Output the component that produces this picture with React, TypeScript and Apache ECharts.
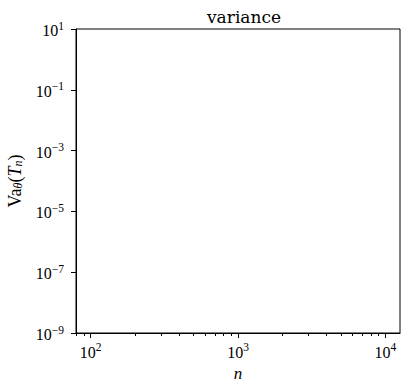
import React, { useEffect, useRef } from "react";
import * as echarts from "echarts";

const titleText = "variance";
const xMajorTicks = [100, 1000, 10000];
const xMinorTicks = [80, 90, 200, 300, 400, 500, 600, 700, 800, 900, 2000, 3000, 4000, 5000, 6000, 7000, 8000, 9000];
const yMajorTicks = [10, 0.1, 1e-3, 1e-5, 1e-7, 1e-9];
const xRange = [Math.pow(10, 1.9), Math.pow(10, 4.1)];
const yRange = [1e-9, 10];
const seriesValues: [number, number][] = [];

const SERIF = "'Liberation Serif', 'DejaVu Serif', serif";

function powLabel(v: number) {
  const e = Math.round(Math.log10(v));
  const s = e < 0 ? "\u2212" + Math.abs(e) : String(e);
  return "{b|10}{s|" + s + "}";
}

const richTick = {
  b: { fontFamily: SERIF, fontSize: 16, color: "#000", lineHeight: 19, verticalAlign: "bottom" },
  s: { fontFamily: SERIF, fontSize: 11.5, color: "#000", lineHeight: 11, verticalAlign: "top" },
};

export default function App() {
  const ref = useRef<HTMLDivElement>(null);
  useEffect(() => {
    if (!ref.current) return;
    const chart = echarts.init(ref.current, null, { renderer: "svg" });
    chart.setOption({
      animation: false,
      backgroundColor: "#fff",
      title: {
        text: titleText,
        left: 239,
        top: 3,
        textAlign: "center",
        textStyle: { fontFamily: "'DejaVu Serif', serif", fontSize: 17, fontWeight: "normal", color: "#000" },
      },
      grid: {
        left: 76,
        top: 29,
        right: 2,
        bottom: 49,
        containLabel: false,
        outerBoundsMode: "none",
        show: true,
        borderColor: "#000",
        borderWidth: 1,
        backgroundColor: "transparent",
      },
      xAxis: [
        {
          type: "log",
          logBase: 10,
          min: xRange[0],
          max: xRange[1],
          name: "n",
          nameLocation: "middle",
          nameGap: 28,
          nameTextStyle: { fontFamily: SERIF, fontSize: 17, fontStyle: "italic", color: "#000" },
          axisLine: { show: true, lineStyle: { color: "#000", width: 1 } },
          axisTick: { show: true, inside: false, length: 5, lineStyle: { color: "#000" }, customValues: xMajorTicks },
          axisLabel: { show: true, margin: 8, customValues: xMajorTicks, formatter: (v: number) => powLabel(v), rich: richTick },
          splitLine: { show: false },
          minorTick: { show: false },
        },
        {
          type: "log",
          logBase: 10,
          min: xRange[0],
          max: xRange[1],
          position: "bottom",
          axisLine: { show: false },
          axisTick: { show: true, inside: false, length: 3, lineStyle: { color: "#000" }, customValues: xMinorTicks },
          axisLabel: { show: false },
          splitLine: { show: false },
        },
      ],
      yAxis: {
        type: "log",
        logBase: 10,
        min: yRange[0],
        max: yRange[1],
        name: "{t|Va}{st|θ}{t|(}{ti|T}{si|n}{t|)}",
        nameLocation: "middle",
        nameRotate: 90,
        nameGap: 52,
        nameTextStyle: {
          color: "#000",
          rich: {
            t: { fontFamily: SERIF, fontSize: 18, color: "#000", lineHeight: 20, verticalAlign: "bottom" },
            ti: { fontFamily: SERIF, fontSize: 18, fontStyle: "italic", color: "#000", lineHeight: 20, verticalAlign: "bottom" },
            st: { fontFamily: SERIF, fontSize: 12, fontStyle: "italic", color: "#000", lineHeight: 15, verticalAlign: "bottom" },
            si: { fontFamily: SERIF, fontSize: 12, fontStyle: "italic", color: "#000", lineHeight: 15, verticalAlign: "bottom" },
          },
        },
        axisLine: { show: true, lineStyle: { color: "#000", width: 1 } },
        axisTick: { show: true, inside: false, length: 5, lineStyle: { color: "#000" }, customValues: yMajorTicks },
        axisLabel: { show: true, margin: 12, customValues: yMajorTicks, formatter: (v: number) => powLabel(v), rich: richTick },
        splitLine: { show: false },
      },
      series: [
        {
          type: "line",
          data: seriesValues,
          xAxisIndex: 0,
          yAxisIndex: 0,
        },
      ],
    });
    return () => chart.dispose();
  }, []);
  return (
    <div
      ref={ref}
      style={{ position: "fixed", left: 0, top: 0, width: 402, height: 382, background: "#fff" }}
    />
  );
}
